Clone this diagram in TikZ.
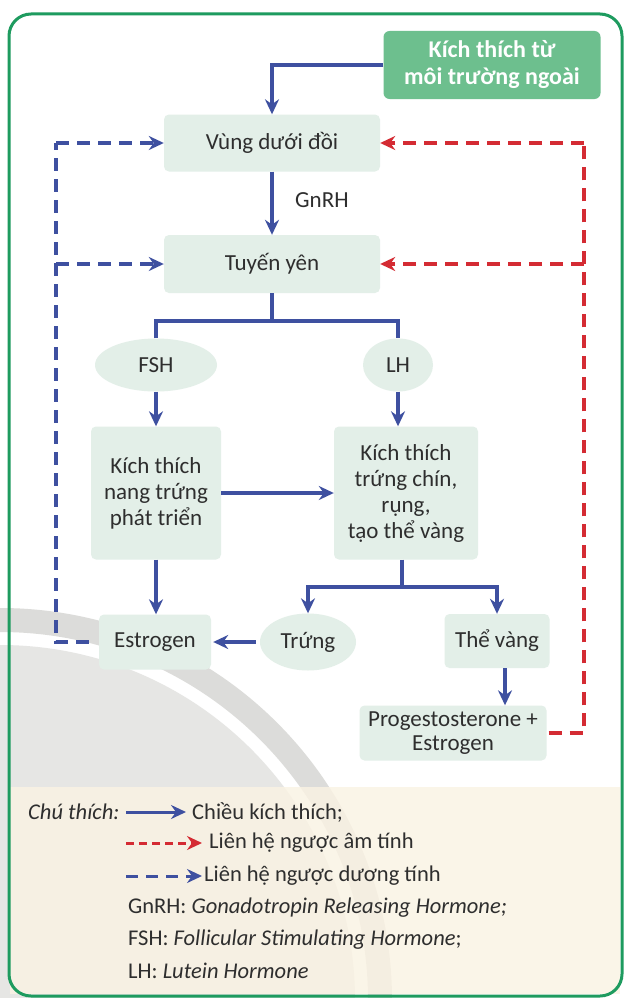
\documentclass[tikz,border=0pt]{standalone}
\usepackage{fontspec}
\setmainfont{Carlito}
\usetikzlibrary{arrows.meta,calc,shapes.geometric}
\definecolor{arrblue}{HTML}{3E50A0}
\definecolor{fbred}{HTML}{D42B33}
\definecolor{boxfill}{HTML}{E3EFE8}
\definecolor{extfill}{HTML}{6DBF8E}
\definecolor{frame}{HTML}{1E9B5F}
\definecolor{txt}{HTML}{2E2E2E}
\definecolor{legbg}{HTML}{FAF3E3}
\definecolor{wmark}{HTML}{DCDCDA}
\definecolor{wdisc}{HTML}{E6E6E4}
\tikzset{
  pbox/.style={fill=boxfill, rounded corners=5pt, text=txt, align=center,
    font=\fontsize{23}{26}\selectfont, inner sep=0pt},
  pell/.style={ellipse, fill=boxfill, text=txt, inner sep=0pt,
    font=\fontsize{23}{26}\selectfont},
  tipb/.tip={Stealth[length=15pt,width=14pt,inset=5pt]},
  flow/.style={draw=arrblue, line width=3.6pt},
  flowarr/.style={flow, -{tipb}},
  posfb/.style={draw=arrblue, line width=3.4pt, dash pattern=on 13pt off 8pt},
  negfb/.style={draw=fbred, line width=3.4pt, dash pattern=on 13pt off 8pt},
  legtxt/.style={text=txt, anchor=west, inner sep=0pt, font=\fontsize{22.5}{26}\selectfont}
}
\begin{document}
\begin{tikzpicture}[x=1pt,y=-1pt]
\useasboundingbox (0,0) rectangle (626,998);
\fill[white] (0,0) rectangle (626,998);
% faint emblem in the lower left corner
\begin{scope}
  \clip (0,0) rectangle (626,998);
  \fill[wdisc] (0,1000) circle[radius=355];
  \draw[white, line width=12pt] (0,1000) circle[radius=362];
  \draw[wmark, line width=24pt] (0,1000) circle[radius=380];
\end{scope}
% legend background
\fill[legbg, opacity=0.82] (10,787) rectangle (620,994);
% outer frame
\draw[frame, line width=3pt, rounded corners=22pt] (9,14) -- (622,14) -- (622,996) -- (9,996) -- cycle;

% nodes
\node[fill=extfill, rounded corners=6pt, minimum width=217pt, minimum height=68pt,
  text=white, align=center, font=\bfseries\fontsize{24}{27}\selectfont, inner sep=0pt]
  (ext) at (492,65) {Kích thích từ\\môi trường ngoài};
\node[pbox, minimum width=216pt, minimum height=57pt] (vung) at (272,143) {Vùng dưới đồi};
\node[text=txt, font=\fontsize{23}{26}\selectfont, anchor=west, inner sep=0pt] (gnrh) at (295,200) {GnRH};
\node[pbox, minimum width=216pt, minimum height=58pt] (tuyen) at (272,264) {Tuyến yên};
\node[pell, minimum width=122pt, minimum height=53pt] (fsh) at (156,365) {FSH};
\node[pell, minimum width=70pt, minimum height=53pt] (lh) at (398,365) {LH};
\node[pbox, minimum width=130pt, minimum height=133pt] (nang) at (156,493)
  {Kích thích\\nang trứng\\phát triển};
\node[pbox, minimum width=144pt, minimum height=133pt] (chin) at (406,493)
  {Kích thích\\trứng chín,\\rụng,\\tạo thể vàng};
\node[pbox, minimum width=112pt, minimum height=55pt] (estro) at (155,642) {Estrogen};
\node[pell, minimum width=96pt, minimum height=57pt] (trung) at (308,642) {Trứng};
\node[pbox, minimum width=105pt, minimum height=54pt] (tv) at (497,641) {Thể vàng};
\node[pbox, minimum width=187pt, minimum height=55pt, font=\fontsize{23}{24}\selectfont] (prog) at (453,733)
  {Progestosterone +\\Estrogen};

% stimulation pathway
\draw[flowarr] (ext.west) -| (vung.north);
\draw[flowarr] (vung.south) -- (tuyen.north);
\coordinate (br) at (272,321);
\draw[flow] (tuyen.south) -- (br);
\draw[flow] (fsh.north) |- (br) -| (lh.north);
\draw[flowarr] (fsh.south) -- (fsh.south |- nang.north);
\draw[flowarr] (lh.south) -- (lh.south |- chin.north);
\draw[flowarr] (nang.east) -- (chin.west);
\draw[flowarr] (nang.south) -- (nang.south |- estro.north);
\coordinate (br2) at (402,587);
\draw[flow] (chin.south -| br2) -- (br2);
\draw[flowarr] (br2) -| (trung.north);
\draw[flowarr] (br2) -| (tv.north);
\draw[flowarr, shorten <=4pt, shorten >=2pt] (trung.west) -- (estro.east);
\draw[flowarr] ($(tv.south)+(8,0)$) -- ($(tv.south |- prog.north)+(8,0)$);

% positive feedback (blue dashed)
\coordinate (pl) at (56,143);
\coordinate (pm) at (56,264);
\draw[posfb] ([xshift=-10pt]estro.west) -| (pl);
\draw[posfb, -{tipb}] (pl) -- (vung.west);
\draw[posfb, -{tipb}] (pm) -- (tuyen.west);

% negative feedback (red dashed)
\coordinate (nl) at (584,143);
\coordinate (nm) at (584,264);
\draw[negfb] ([xshift=2pt]prog.east) -| (nl);
\draw[negfb, -{tipb}] (nl) -- (vung.east);
\draw[negfb, -{tipb}] (nm) -- (tuyen.east);

% legend
\node[legtxt, font=\itshape\fontsize{22.5}{26}\selectfont] (lgh) at (28,812) {Chú thích:};
\coordinate (la1) at (126,812); \coordinate (lb1) at (186,812);
\coordinate (la2) at (126,843); \coordinate (lb2) at (202,843);
\coordinate (la3) at (126,876); \coordinate (lb3) at (202,876);
\draw[flowarr, line width=3pt] (la1) -- (lb1);
\draw[negfb, line width=3pt, dash pattern=on 8pt off 5pt, -{tipb}] (la2) -- (lb2);
\draw[posfb, line width=3pt, dash pattern=on 12pt off 8pt, -{tipb}] (la3) -- (lb3);
\node[legtxt] (l1) at (192,812) {Chiều kích thích;};
\node[legtxt] (l2) at (209,843) {Liên hệ ngược âm tính};
\node[legtxt] (l3) at (204,876) {Liên hệ ngược dương tính};
\node[legtxt] (l4) at (128,908) {GnRH: \textit{Gonadotropin Releasing Hormone;}};
\node[legtxt] (l5) at (128,940) {FSH: \textit{Follicular Stimulating Hormone};};
\node[legtxt] (l6) at (128,971) {LH: \textit{Lutein Hormone}};
\end{tikzpicture}
\end{document}
